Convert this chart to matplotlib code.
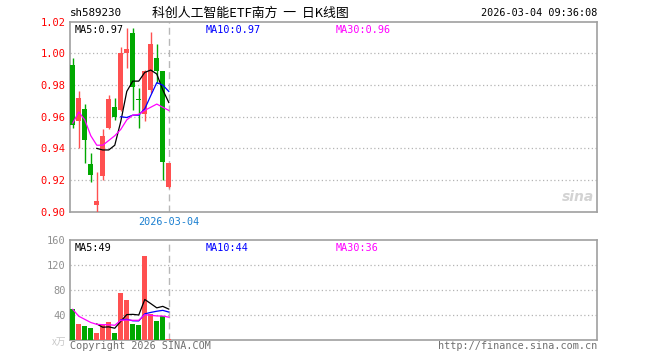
import numpy as np
import matplotlib
matplotlib.use('Agg')
import matplotlib.pyplot as plt

# daily candles, 17 sessions
opens = [0.993, 0.957, 0.965, 0.930, 0.904, 0.9225, 0.953, 0.966, 0.964, 1.0004,
         1.013, 0.9715, 0.962, 0.977, 0.997, 0.989, 0.9158]
closes = [0.955, 0.972, 0.945, 0.923, 0.907, 0.948, 0.971, 0.960, 1.000, 1.003,
          0.9785, 0.9708, 0.989, 1.006, 0.9888, 0.9316, 0.931]
highs = [0.997, 0.976, 0.968, 0.937, 0.925, 0.952, 0.974, 0.972, 1.004, 1.016,
         1.016, 0.978, 0.9895, 1.0135, 1.006, 0.989, 0.931]
lows = [0.953, 0.940, 0.931, 0.919, 0.900, 0.920, 0.952, 0.958, 0.9636, 0.9905,
        0.964, 0.953, 0.9575, 0.975, 0.9815, 0.920, 0.9152]
volumes = [50, 26, 22, 19, 11, 24, 29, 11, 75, 64, 26, 24, 135, 42, 30, 38, 2]

nan = np.nan
price_ma5 = [nan, nan, nan, nan, 0.940, 0.939, 0.939, 0.942, 0.957, 0.976,
             0.9825, 0.9825, 0.988, 0.9895, 0.987, 0.977, 0.969]
price_ma10 = [nan, nan, nan, nan, nan, nan, nan, nan, 0.960, 0.9595,
              0.961, 0.961, 0.965, 0.9734, 0.9815, 0.980, 0.976]
price_ma30 = [0.956, 0.963, 0.958, 0.948, 0.942, 0.942, 0.945, 0.948, 0.952, 0.958,
              0.961, 0.9615, 0.964, 0.966, 0.968, 0.966, 0.964]
vol_ma5 = [nan, nan, nan, nan, 25.6, 20.4, 21.0, 18.8, 30.0, 40.6,
           41.0, 40.0, 64.8, 58.2, 51.4, 53.8, 49.4]
vol_ma10 = [nan, nan, nan, nan, nan, nan, nan, nan, 32, 33.1,
            30.7, 30.5, 41.8, 44.1, 46.0, 47.4, 44.7]
vol_ma30 = [49, 38, 33, 28, 25, 24.5, 24.5, 23.5, 31.5, 32,
            31.5, 31.5, 40.5, 39.5, 38.5, 38.3, 36.5]

price_ticks = [0.90, 0.92, 0.94, 0.96, 0.98, 1.00, 1.02]
vol_ticks = [40, 80, 120, 160]

RED = '#ff5050'
GREEN = '#00a800'
BORDER = '#a0a0a0'
MONO = 'DejaVu Sans Mono'

fig = plt.figure(figsize=(6.6, 3.6), dpi=100)
ax = fig.add_axes([0.106, 0.412, 0.7985, 0.5275])
axv = fig.add_axes([0.106, 0.0556, 0.7985, 0.2778])

x = np.arange(len(opens))
last = x[-1]

for a in (ax, axv):
    a.set_xlim(-0.47, 87.37)
    for s in a.spines.values():
        s.set_color(BORDER)
        s.set_linewidth(1.2)
    a.set_xticks([])
    a.tick_params(axis='y', length=0, pad=3)
    a.axvline(last, color='#b8b8b8', lw=1, ls=(0, (5, 3)), zorder=1)

# candles
for i in x:
    up = closes[i] >= opens[i]
    c = RED if up else GREEN
    ax.vlines(i, lows[i], highs[i], color=c, lw=1, zorder=3)
    lo = min(opens[i], closes[i])
    h = max(abs(closes[i] - opens[i]), 0.0004)
    ax.bar(i, h, bottom=lo, width=0.85, color=c, zorder=4, linewidth=0)

ax.plot(x, price_ma5, color='black', lw=0.9, zorder=5)
ax.plot(x, price_ma10, color='#0000ff', lw=0.9, zorder=5)
ax.plot(x, price_ma30, color='#ff00ff', lw=0.9, zorder=5)

ax.set_ylim(0.90, 1.02)
ax.set_yticks(price_ticks)
ax.set_yticklabels(['%.2f' % t for t in price_ticks], color='red',
                   fontsize=7.5, family=MONO)
for t in price_ticks[1:-1]:
    ax.axhline(t, color='#b4b4b4', lw=0.9, ls=(0, (1, 2)), zorder=0)

# volume
vcol = [RED if closes[i] >= opens[i] else GREEN for i in x]
axv.bar(x, volumes, width=0.85, color=vcol, linewidth=0, zorder=3)
axv.plot(x, vol_ma5, color='black', lw=0.9, zorder=5)
axv.plot(x, vol_ma10, color='#0000ff', lw=0.9, zorder=5)
axv.plot(x, vol_ma30, color='#ff00ff', lw=0.9, zorder=5)
axv.set_ylim(0, 160)
axv.set_yticks(vol_ticks)
axv.set_yticklabels([str(t) for t in vol_ticks], color='#909090',
                    fontsize=7.5, family=MONO)
for t in vol_ticks[:-1]:
    axv.axhline(t, color='#b4b4b4', lw=0.9, ls=(0, (1, 2)), zorder=0)

# texts
fs = 7.3
ax.text(0.008, 0.985, 'MA5:0.97', transform=ax.transAxes, va='top', ha='left',
        fontsize=fs, family=MONO, color='black')
ax.text(0.257, 0.985, 'MA10:0.97', transform=ax.transAxes, va='top', ha='left',
        fontsize=fs, family=MONO, color='#0000ff')
ax.text(0.505, 0.985, 'MA30:0.96', transform=ax.transAxes, va='top', ha='left',
        fontsize=fs, family=MONO, color='#ff00ff')
axv.text(0.008, 0.97, 'MA5:49', transform=axv.transAxes, va='top', ha='left',
         fontsize=fs, family=MONO, color='black')
axv.text(0.257, 0.97, 'MA10:44', transform=axv.transAxes, va='top', ha='left',
         fontsize=fs, family=MONO, color='#0000ff')
axv.text(0.505, 0.97, 'MA30:36', transform=axv.transAxes, va='top', ha='left',
         fontsize=fs, family=MONO, color='#ff00ff')

fig.text(70 / 660, 1 - 13 / 360, 'sh589230', fontsize=7.8, family=MONO,
         va='center', ha='left', color='black')
fig.text(250 / 660, 1 - 13 / 360, '科创人工智能ETF南方  一  日K线图', fontsize=9.3,
         family=['Noto Sans CJK SC', 'DejaVu Sans'], va='center', ha='center',
         color='black')
fig.text(597 / 660, 1 - 13 / 360, '2026-03-04 09:36:08', fontsize=7.3,
         family=MONO, va='center', ha='right', color='black')
ax.text(last, 0.8965, '2026-03-04', fontsize=7.3, family=MONO, va='top',
        ha='center', color='#1a7fd0')
fig.text(70 / 660, 1 - 346 / 360, 'Copyright 2026 SINA.COM', fontsize=7.3,
         family=MONO, va='center', ha='left', color='#707070')
fig.text(597 / 660, 1 - 346 / 360, 'http://finance.sina.com.cn', fontsize=7.3,
         family=MONO, va='center', ha='right', color='#707070')
fig.text(66 / 660, 1 - 342 / 360, 'x万', fontsize=7,
         family=['Noto Sans CJK SC', 'DejaVu Sans'], va='center', ha='right',
         color='#c8c8c8')
ax.text(0.995, 0.04, 'sina', transform=ax.transAxes, fontsize=10,
        fontweight='bold', style='italic', color='#c8c8c8', ha='right',
        va='bottom', alpha=0.8)

fig.savefig('out.png', dpi=100)
